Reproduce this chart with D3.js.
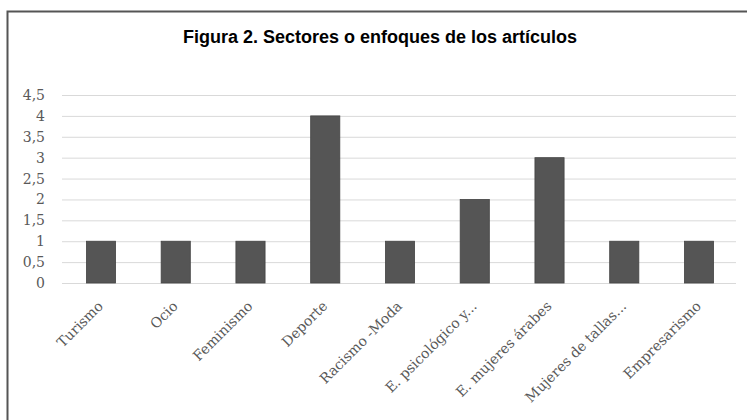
<!DOCTYPE html>
<html><head><meta charset="utf-8">
<script src="https://cdn.jsdelivr.net/npm/d3@7"></script>
<style>body{margin:0;background:#fff}svg{display:block}</style>
</head><body>
<script>
const title = "Figura 2. Sectores o enfoques de los artículos";
const categories = ["Turismo","Ocio","Feminismo","Deporte","Racismo -Moda","E. psicológico  y...","E. mujeres árabes","Mujeres de tallas...","Empresarismo"];
const values = [1,1,1,4,1,2,3,1,1];
const yTicks = [0,0.5,1,1.5,2,2.5,3,3.5,4,4.5];
const yTickLabels = ["0","0,5","1","1,5","2","2,5","3","3,5","4","4,5"];

const W = 747, H = 420;
const svg = d3.select("body").append("svg").attr("width", W).attr("height", H);
svg.append("rect").attr("x",0).attr("y",0).attr("width",W).attr("height",H).attr("fill","#fff");
// frame
svg.append("path").attr("d",`M7.5,${H} V11.5 H${W}`).attr("fill","none").attr("stroke","#555").attr("stroke-width",2);

const x = d3.scaleBand().domain(categories).range([63.6, 736.4]).paddingInner(0.61).paddingOuter(0.305);
const y = d3.scaleLinear().domain([0,4.5]).range([283, 95]);

// gridlines
svg.append("g").selectAll("line").data(yTicks).join("line")
  .attr("x1", 62).attr("x2", 736).attr("y1", d=>y(d)+0.5).attr("y2", d=>y(d)+0.5)
  .attr("stroke","#d9d9d9").attr("stroke-width",1);

// y axis labels
const yAxis = d3.axisLeft(y).tickValues(yTicks).tickFormat((d,i)=>yTickLabels[i]).tickSize(0).tickPadding(0);
const gy = svg.append("g").attr("transform","translate(45,0)").call(yAxis);
gy.select(".domain").remove();
gy.selectAll("text").attr("font-family","'DejaVu Serif', serif").attr("font-size",14).attr("fill","#595959");

// bars
svg.append("g").selectAll("rect").data(values).join("rect")
  .attr("x",(d,i)=>x(categories[i])).attr("width",x.bandwidth())
  .attr("y",d=>y(d)).attr("height",d=>y(0)-y(d))
  .attr("fill","#555555").attr("stroke","#444").attr("stroke-width",0.8);

// x axis labels
const xAxis = d3.axisBottom(x).tickSize(0).tickPadding(0);
const gx = svg.append("g").attr("transform",`translate(0,${y(0)})`).call(xAxis);
gx.select(".domain").remove();
gx.selectAll("text")
  .attr("font-family","'DejaVu Serif', serif").attr("font-size",14).attr("fill","#595959")
  .attr("text-anchor","end").attr("dy",0).attr("y",0)
  .attr("transform","translate(3,24) rotate(-45)");

// title
svg.append("text").attr("x",380).attr("y",43).attr("text-anchor","middle")
  .attr("font-family","'Liberation Sans', Arial, sans-serif").attr("font-weight","bold")
  .attr("font-size",18).attr("fill","#000").text(title);
</script>
</body></html>
